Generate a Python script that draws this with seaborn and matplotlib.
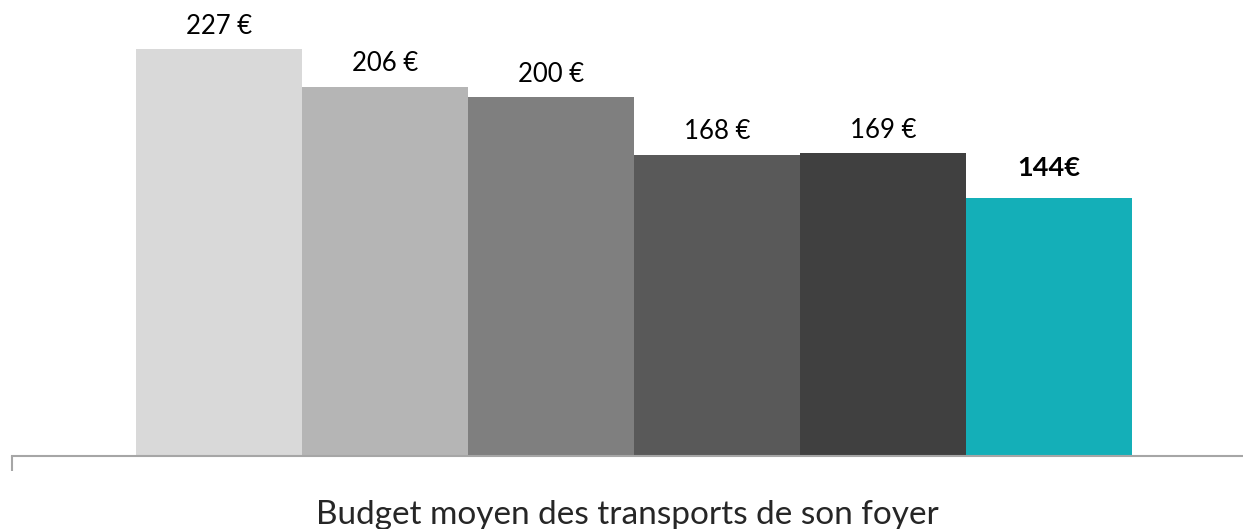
import matplotlib
matplotlib.use('Agg')
import matplotlib.pyplot as plt
import seaborn as sns

# Data
series = ['S1', 'S2', 'S3', 'S4', 'S5', 'S6']
values = [227, 206, 200, 168, 169, 144]
labels = ['227 €', '206 €', '200 €', '168 €', '169 €', '144€']
colors = ['#D9D9D9', '#B5B5B5', '#7F7F7F', '#595959', '#404040', '#14AFB8']
category = 'Budget moyen des transports de son foyer'

sns.set_style('white')
plt.rcParams['font.family'] = ['Lato', 'DejaVu Sans']

fig = plt.figure(figsize=(12.43, 5.29), dpi=100)
ax = fig.add_axes([12 / 1243, 73 / 529, 1231 / 1243, 456 / 529])

sns.barplot(x=series, y=values, hue=series, palette=colors, width=1.0,
            legend=False, ax=ax, saturation=1, linewidth=0)

# value labels above the bars, last one in bold
for i, (v, lab) in enumerate(zip(values, labels)):
    bold = i == len(values) - 1
    ax.annotate(lab, (i, v), xytext=(0, 21.5 if bold else 16.5),
                textcoords='offset points', ha='center', va='center',
                fontsize=19.5 if bold else 18.5,
                fontweight='bold' if bold else 'normal', color='black')

xmin = -0.5 - 124 / 166
ax.set_xlim(xmin, xmin + 1231 / 166)
ax.set_ylim(0, 456 / 1.793)

for s in ['top', 'right', 'left']:
    ax.spines[s].set_visible(False)
ax.spines['bottom'].set_color('#A6A6A6')
ax.spines['bottom'].set_linewidth(1.5)
ax.set_yticks([])
ax.set_xticks([xmin])
ax.set_xticklabels([''])
ax.tick_params(axis='x', length=11, width=1.5, color='#A6A6A6', bottom=True)
ax.set_xlabel(category, fontsize=24, labelpad=17)
ax.set_ylabel('')

fig.savefig('out.png', dpi=100)
